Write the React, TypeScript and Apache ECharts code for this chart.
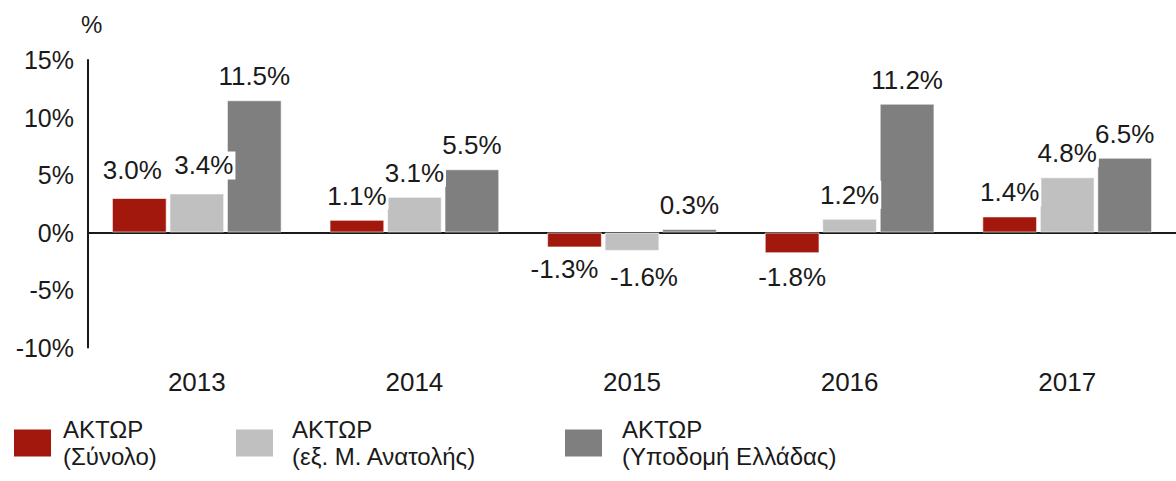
import React, { useEffect, useRef } from "react";
import * as echarts from "echarts";

const categories = ["2013", "2014", "2015", "2016", "2017"];
const seriesNames = ["ΑΚΤΩΡ\n(Σύνολο)", "ΑΚΤΩΡ\n(εξ. Μ. Ανατολής)", "ΑΚΤΩΡ\n(Υποδομή Ελλάδας)"];
const totalValues = [3.0, 1.1, -1.3, -1.8, 1.4];
const exMiddleEastValues = [3.4, 3.1, -1.6, 1.2, 4.8];
const greeceInfraValues = [11.5, 5.5, 0.3, 11.2, 6.5];
const colors = ["#A3180C", "#C0C0C0", "#7F7F7F"];
const legendLefts = [14, 236, 565];
const legendTextGaps = [7, 14, 15];

const FONT = "'Liberation Sans', Arial, sans-serif";

// nudges for crowded labels: key "series-index"
const labelNudge: Record<string, [number, number]> = {
  "0-2": [-10, -2],
  "1-2": [12, 2],
  "0-0": [-7, -4],
  "1-0": [7, -4],
};

export default function App() {
  const ref = useRef<HTMLDivElement>(null);
  useEffect(() => {
    if (!ref.current) return;
    const chart = echarts.init(ref.current, null, { renderer: "svg" });
    const allValues = [totalValues, exMiddleEastValues, greeceInfraValues];
    const series = allValues.map((vals, i) => ({
      name: seriesNames[i],
      type: "bar",
      barGap: "5%",
      barCategoryGap: "22%",
      itemStyle: { color: colors[i], borderColor: "rgba(255,255,255,0.6)", borderWidth: 1 },
      data: vals.map((v, j) => ({
        value: v,
        label: {
          position: v < 0 ? "bottom" : "top",
          distance: 10,
          offset: labelNudge[i + "-" + j] || [0, 0],
        },
      })),
      label: {
        show: true,
        formatter: (p: any) => p.value.toFixed(1) + "%",
        fontSize: 26,
        fontFamily: FONT,
        color: "#1a1a1a",
        backgroundColor: "#ffffff",
        padding: [1, 2, 1, 2],
      },
      markLine:
        i === 0
          ? {
              silent: true,
              symbol: "none",
              label: { show: false },
              lineStyle: { color: "#1a1a1a", width: 2, type: "solid" },
              data: [{ yAxis: 0 }],
              z: 1,
            }
          : undefined,
    }));
    chart.setOption({
      animation: false,
      title: {
        text: "%",
        left: 76,
        top: 7,
        textStyle: { fontSize: 24, fontWeight: "normal", fontFamily: FONT, color: "#1a1a1a" },
      },
      legend: seriesNames.map((n, i) => ({
        data: [n],
        left: legendLefts[i],
        top: 416,
        padding: 0,
        icon: "rect",
        itemWidth: 37,
        itemHeight: 27,
        itemStyle: { borderWidth: 0 },
        textStyle: {
          fontSize: 24,
          lineHeight: 27,
          fontFamily: FONT,
          color: "#1a1a1a",
          padding: [0, 0, 0, legendTextGaps[i]],
        },
      })),
      grid: { left: 88, right: 0, top: 60, bottom: 133.5, containLabel: false },
      xAxis: {
        type: "category",
        data: categories,
        axisLine: { show: false, onZero: false },
        axisTick: { show: false },
        axisLabel: { fontSize: 26, fontFamily: FONT, color: "#1a1a1a", margin: 21 },
      },
      yAxis: {
        type: "value",
        min: -10,
        max: 15,
        interval: 5,
        axisLine: { show: true, lineStyle: { color: "#1a1a1a", width: 2 } },
        axisTick: { show: false },
        splitLine: { show: false },
        axisLabel: {
          fontSize: 25,
          fontFamily: FONT,
          color: "#1a1a1a",
          margin: 14,
          formatter: (v: number) => v + "%",
        },
      },
      series,
    });
    return () => chart.dispose();
  }, []);
  return (
    <div
      ref={ref}
      style={{ position: "absolute", left: 0, top: 0, width: 1176, height: 481, background: "#fff" }}
    />
  );
}
